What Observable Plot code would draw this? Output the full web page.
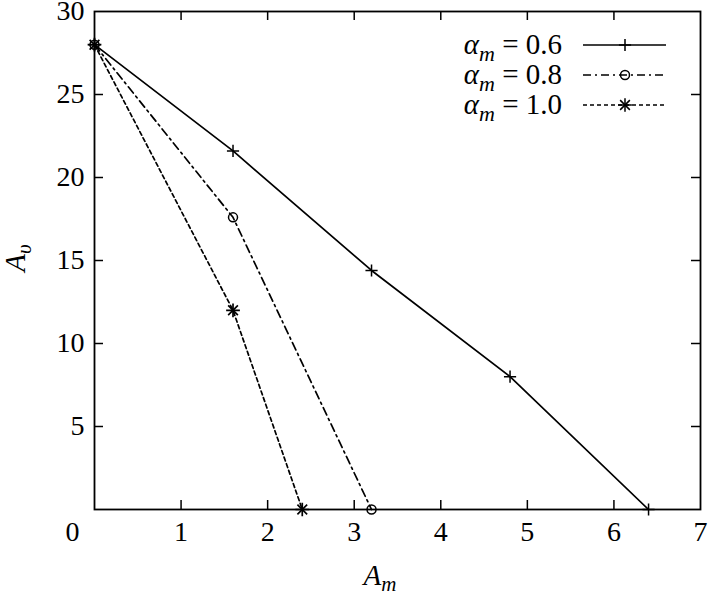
<!DOCTYPE html>
<html><head><meta charset="utf-8">
<script src="https://cdn.jsdelivr.net/npm/d3@7"></script>
<script src="https://cdn.jsdelivr.net/npm/@observablehq/plot@0.6"></script>
<style>
body{margin:0;background:#fff}
#chart svg{font-family:"Liberation Serif","Times New Roman",serif}
#chart svg text{font-family:"Liberation Serif","Times New Roman",serif}
</style>
</head><body><div id="chart"></div>
<script>
// Data
const am06 = [0, 1.6, 3.2, 4.8, 6.4];
const av06 = [28, 21.6, 14.4, 8, 0];
const am08 = [0, 1.6, 3.2];
const av08 = [28, 17.6, 0];
const am10 = [0, 1.6, 2.4];
const av10 = [28, 12, 0];
const seriesLabels = ["0.6", "0.8", "1.0"];
const xTickLabels = [1, 2, 3, 4, 5, 6, 7];
const xZeroLabel = [0];
const yTickLabels = [5, 10, 15, 20, 25, 30];
const xInnerTicks = [1, 2, 3, 4, 5, 6];
const yInnerTicks = [5, 10, 15, 20, 25];

const toRows = (xs, ys) => xs.map((x, i) => ({x, y: ys[i]}));
const s06 = toRows(am06, av06);
const s08 = toRows(am08, av08);
const s10 = toRows(am10, av10);

const FONT = "Liberation Serif";
const W = 708, H = 596, mL = 94, mR = 8, mT = 11, mB = 87;
const innerW = W - mL - mR, innerH = H - mT - mB;
const tk = 9;

const plot = Plot.plot({
  width: W, height: H,
  marginLeft: mL, marginRight: mR, marginTop: mT, marginBottom: mB,
  style: {fontFamily: FONT, fontSize: "28px", color: "black", background: "white"},
  x: {domain: [0, 7]},
  y: {domain: [0, 30]},
  marks: [
    Plot.axisX(xTickLabels, {tickSize: 0, tickPadding: 12, fontSize: 28, fontFamily: FONT, label: null}),
    Plot.axisX(xZeroLabel, {tickSize: 0, tickPadding: 12, fontSize: 28, fontFamily: FONT, dx: -22, label: null}),
    Plot.axisY(yTickLabels, {tickSize: 0, tickPadding: 10, fontSize: 28, fontFamily: FONT, label: null}),
    Plot.tickX(xInnerTicks, {x: d => d, insetTop: innerH - tk, stroke: "black", strokeWidth: 1.5}),
    Plot.tickX(xInnerTicks, {x: d => d, insetBottom: innerH - tk, stroke: "black", strokeWidth: 1.5}),
    Plot.tickY(yInnerTicks, {y: d => d, insetRight: innerW - tk, stroke: "black", strokeWidth: 1.5}),
    Plot.tickY(yInnerTicks, {y: d => d, insetLeft: innerW - tk, stroke: "black", strokeWidth: 1.5}),
    Plot.line(s06, {x: "x", y: "y", stroke: "black", strokeWidth: 1.7}),
    Plot.line(s08, {x: "x", y: "y", stroke: "black", strokeWidth: 1.7, strokeDasharray: "8,4,2,4"}),
    Plot.line(s10, {x: "x", y: "y", stroke: "black", strokeWidth: 1.7, strokeDasharray: "4,3"}),
    Plot.dot(s06, {x: "x", y: "y", symbol: "plus", r: 4, stroke: "black", strokeWidth: 1.5}),
    Plot.dot(s08, {x: "x", y: "y", symbol: "circle", r: 4.5, stroke: "black", fill: "none", strokeWidth: 1.5}),
    Plot.dot(s10, {x: "x", y: "y", symbol: "plus", r: 4.5, stroke: "black", strokeWidth: 1.7}),
    Plot.dot(s10, {x: "x", y: "y", symbol: "times", r: 4.5, stroke: "black", strokeWidth: 1.7}),
    Plot.frame({stroke: "black", strokeWidth: 1.8})
  ]
});
document.getElementById("chart").appendChild(plot);

// Axis labels and legend (chrome)
const svg = d3.select(plot);
const xl = svg.append("text").attr("x", 380).attr("y", 585).attr("font-size", 29).attr("font-family", FONT).attr("fill", "black");
xl.append("tspan").attr("font-style", "italic").text("A");
xl.append("tspan").attr("font-style", "italic").attr("font-size", 21).attr("dy", 6).text("m");

const yl = svg.append("text").attr("transform", "translate(25,258) rotate(-90)").attr("text-anchor", "middle").attr("font-size", 29).attr("font-family", FONT).attr("fill", "black");
yl.append("tspan").attr("font-style", "italic").text("A");
yl.append("tspan").attr("font-style", "italic").attr("font-size", 21).attr("dy", 6).text("υ");

const dashes = [null, "8,4,2,4", "4,3"];
const lg = svg.append("g");
seriesLabels.forEach((lab, i) => {
  const yy = 45 + i * 30;
  const t = lg.append("text").attr("x", 562).attr("y", yy + 9).attr("text-anchor", "end")
    .attr("font-size", 29).attr("font-family", FONT).attr("fill", "black");
  t.append("tspan").attr("font-style", "italic").text("α");
  t.append("tspan").attr("font-style", "italic").attr("font-size", 22).attr("dy", 7).text("m");
  t.append("tspan").attr("dy", -7).text(" = " + lab);
  const ln = lg.append("line").attr("x1", 583).attr("x2", 666).attr("y1", yy).attr("y2", yy)
    .attr("stroke", "black").attr("stroke-width", 1.7);
  if (dashes[i]) ln.attr("stroke-dasharray", dashes[i]);
  const mk = (type, r) => {
    const size = r * r * Math.PI;
    lg.append("path").attr("d", d3.symbol(type, size)()).attr("transform", `translate(625,${yy})`)
      .attr("fill", "none").attr("stroke", "black").attr("stroke-width", 1.5);
  };
  if (i === 0) mk(d3.symbolPlus, 4);
  if (i === 1) mk(d3.symbolCircle, 4.5);
  if (i === 2) { mk(d3.symbolPlus, 4.5); mk(d3.symbolTimes, 4.5); }
});
</script>
</body></html>
